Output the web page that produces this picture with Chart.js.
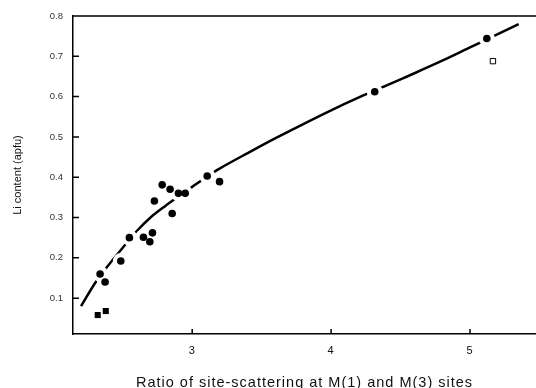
<!DOCTYPE html>
<html>
<head>
<meta charset="utf-8">
<script src="https://cdn.jsdelivr.net/npm/chart.js@4.4.1/dist/chart.umd.min.js"></script>
<style>
  html, body { margin: 0; padding: 0; background: #fff; }
  #wrap { width: 536px; height: 388px; }
</style>
</head>
<body>
<div id="wrap"><canvas id="liChart" width="536" height="388"></canvas></div>
<script>
// filled circles
const circleX = [2.337, 2.373, 2.486, 2.548, 2.649, 2.695, 2.714, 2.728, 2.784, 2.841, 2.856, 2.901, 2.950, 3.108, 3.197, 4.314, 5.121];
const circleY = [0.160, 0.140, 0.192, 0.250, 0.251, 0.240, 0.262, 0.341, 0.381, 0.370, 0.310, 0.360, 0.360, 0.403, 0.389, 0.612, 0.744];
// filled squares
const squareX = [2.320, 2.378];
const squareY = [0.058, 0.068];
// open square
const openX = [5.165];
const openY = [0.688];
// fitted curve
const curveX = [2.20, 2.30, 2.40, 2.50, 2.60, 2.70, 2.80, 2.90, 3.00, 3.10, 3.20, 3.40, 3.60, 3.80, 4.00, 4.20, 4.40, 4.60, 4.80, 5.00, 5.20, 5.35];
const curveY = [0.080, 0.137, 0.183, 0.225, 0.266, 0.300, 0.327, 0.352, 0.376, 0.400, 0.422, 0.460, 0.497, 0.532, 0.566, 0.598, 0.628, 0.658, 0.689, 0.722, 0.755, 0.780];

const xTicks = [3, 4, 5];
const yTicks = [0.1, 0.2, 0.3, 0.4, 0.5, 0.6, 0.7, 0.8];

function pts(xs, ys) {
    return xs.map((x, i) => ({ x: x, y: ys[i] }));
}

// inward tick marks, top frame line, wider letter spacing for the x title
const frame = {
    id: 'frame',
    beforeDraw(chart) {
        chart.ctx.letterSpacing = '1px';
    },
    beforeDatasetsDraw(chart) {
        chart.ctx.letterSpacing = '0px';
    },
    afterDraw(chart) {
        const ctx = chart.ctx;
        const a = chart.chartArea;
        const xs = chart.scales.x, ys = chart.scales.y;
        ctx.save();
        ctx.strokeStyle = '#000';
        ctx.lineWidth = 1.5;
        ctx.beginPath();
        ctx.moveTo(a.left, a.top);
        ctx.lineTo(a.right, a.top);
        xTicks.forEach(v => {
            const p = xs.getPixelForValue(v);
            ctx.moveTo(p, a.bottom);
            ctx.lineTo(p, a.bottom - 5);
        });
        yTicks.forEach(v => {
            const p = ys.getPixelForValue(v);
            ctx.moveTo(a.left, p);
            ctx.lineTo(a.left + 6, p);
        });
        ctx.stroke();
        ctx.restore();
    }
};

let ctx = document.getElementById('liChart').getContext('2d');
let chart = new Chart(ctx, {
    type: 'scatter',
    data: {
        datasets: [{
            label: 'circles',
            data: pts(circleX, circleY),
            pointStyle: 'circle',
            pointRadius: 3.8,
            backgroundColor: '#000',
            borderWidth: 0,
            order: 1
        }, {
            label: 'squares',
            data: pts(squareX, squareY),
            pointStyle: 'rect',
            pointRadius: 4.3,
            backgroundColor: '#000',
            borderWidth: 0,
            order: 1
        }, {
            label: 'open',
            data: pts(openX, openY),
            pointStyle: 'rect',
            pointRadius: 3.8,
            backgroundColor: '#fff',
            borderColor: '#000',
            borderWidth: 1,
            order: 1
        }, {
            label: 'halo',
            data: pts(circleX, circleY),
            pointStyle: 'circle',
            pointRadius: 8,
            backgroundColor: '#fff',
            borderWidth: 0,
            order: 2
        }, {
            label: 'curve',
            data: pts(curveX, curveY),
            showLine: true,
            borderColor: '#000',
            borderWidth: 2.5,
            pointRadius: 0,
            tension: 0.3,
            order: 3
        }]
    },
    options: {
        responsive: false,
        animation: false,
        devicePixelRatio: 1,
        layout: { autoPadding: false, padding: { top: 16, right: 0, left: 0, bottom: 0 } },
        plugins: {
            legend: { display: false },
            tooltip: { enabled: false }
        },
        scales: {
            x: {
                type: 'linear',
                min: 2.142,
                max: 5.475,
                afterBuildTicks: s => { s.ticks = xTicks.map(v => ({ value: v })); },
                afterFit: s => { s.height = 54; s.paddingLeft = 0; s.paddingRight = 0; },
                grid: { display: true, drawOnChartArea: false, drawTicks: false },
                border: { display: true, color: '#000', width: 1.5 },
                ticks: {
                    padding: 10,
                    color: '#111',
                    font: { family: 'Liberation Sans', size: 11 },
                    callback: v => String(v)
                },
                title: {
                    display: true,
                    text: 'Ratio of site-scattering at M(1) and M(3) sites',
                    color: '#111',
                    padding: { top: 0, bottom: -2 },
                    font: { family: 'Liberation Sans', size: 14.5, lineHeight: 1 }
                }
            },
            y: {
                type: 'linear',
                min: 0.011,
                max: 0.8,
                afterBuildTicks: s => { s.ticks = yTicks.map(v => ({ value: v })); },
                afterFit: s => { s.width = 73; },
                grid: { display: true, drawOnChartArea: false, drawTicks: false, z: 1 },
                border: { display: true, color: '#000', width: 1.5, z: 1 },
                ticks: {
                    z: 1,
                    padding: 10,
                    color: '#333',
                    font: { family: 'Liberation Sans', size: 9.5 },
                    callback: v => v.toFixed(1)
                },
                title: {
                    display: true,
                    text: 'Li content (apfu)',
                    color: '#111',
                    padding: { top: 11, bottom: 0 },
                    font: { family: 'Liberation Sans', size: 11 }
                }
            }
        }
    },
    plugins: [frame]
});
</script>
</body>
</html>
